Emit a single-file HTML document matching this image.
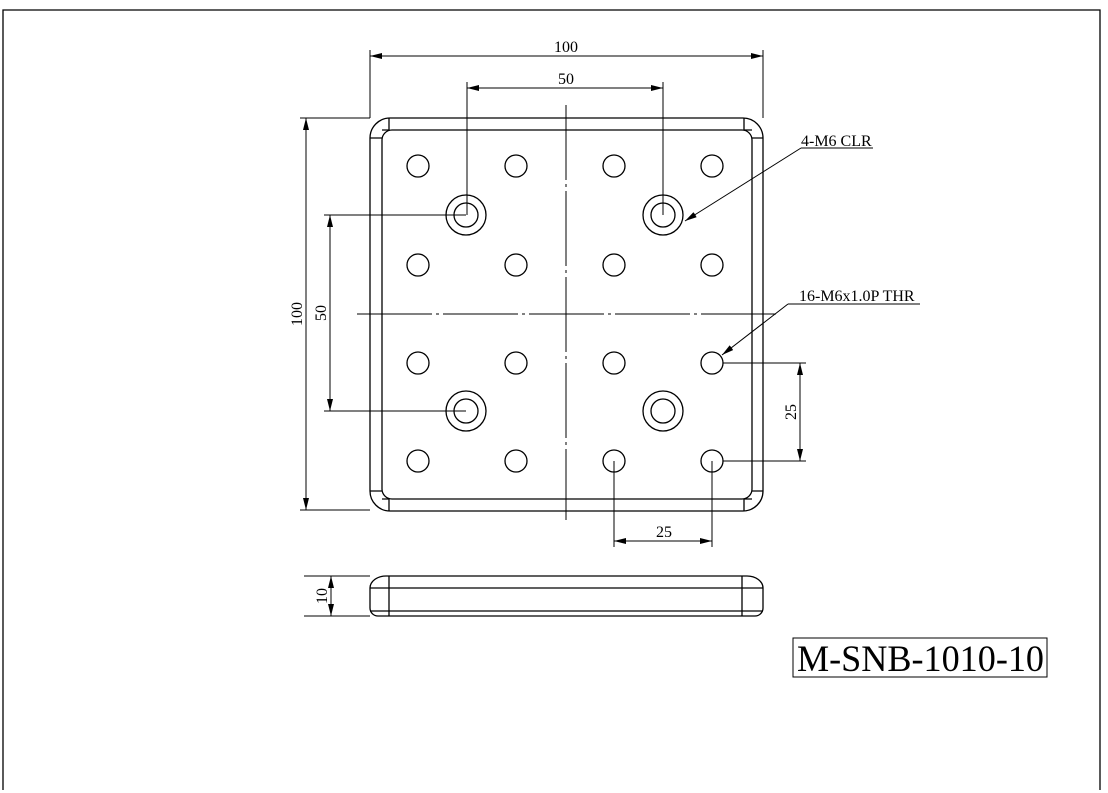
<!DOCTYPE html><html><head><style>body{margin:0;background:#fff}svg{display:block}text{font-family:"Liberation Serif",serif}</style></head><body>
<svg width="1108" height="793" viewBox="0 0 1108 793" xmlns="http://www.w3.org/2000/svg">
<defs><marker id="a" markerWidth="12" markerHeight="6" refX="12" refY="3" orient="auto-start-reverse" markerUnits="userSpaceOnUse"><path d="M0,0 L12,3 L0,6z" fill="#000"/></marker></defs>
<g fill="none" stroke="#000" stroke-width="1.3">
<path d="M3,790 V10 H1100 V790"/>
<path d="M390,118 H743 A20,20 0 0 1 763,138 V491 A20,20 0 0 1 743,511 H390 A20,20 0 0 1 370,491 V138 A20,20 0 0 1 390,118Z"/>
<path d="M392,130 H742 A10,10 0 0 1 752,140 V489 A10,10 0 0 1 742,499 H392 A10,10 0 0 1 382,489 V140 A10,10 0 0 1 392,130Z"/>
<path d="M389,118 V130 H382 M370,138 H382 M744,118 V130 H752 M763,138 H752 M370,491 H382 M389,511 V499 H382 M763,491 H752 M744,511 V499 H752"/>
<g>
<circle cx="418" cy="166" r="11"/><circle cx="516" cy="166" r="11"/><circle cx="614" cy="166" r="11"/><circle cx="712" cy="166" r="11"/>
<circle cx="418" cy="265" r="11"/><circle cx="516" cy="265" r="11"/><circle cx="614" cy="265" r="11"/><circle cx="712" cy="265" r="11"/>
<circle cx="418" cy="363" r="11"/><circle cx="516" cy="363" r="11"/><circle cx="614" cy="363" r="11"/><circle cx="712" cy="363" r="11"/>
<circle cx="418" cy="461" r="11"/><circle cx="516" cy="461" r="11"/><circle cx="614" cy="461" r="11"/><circle cx="712" cy="461" r="11"/>
<circle cx="466" cy="215" r="20"/><circle cx="466" cy="215" r="12"/>
<circle cx="663" cy="215" r="20"/><circle cx="663" cy="215" r="12"/>
<circle cx="466" cy="411" r="20"/><circle cx="466" cy="411" r="12"/>
<circle cx="663" cy="411" r="20"/><circle cx="663" cy="411" r="12"/>
</g>
<path d="M566,105 V520 M357,314 H778" stroke-width="1" stroke-dasharray="75,4,3,4"/>
<path d="M386,576 H747 A16,12 0 0 1 763,588 V608 A8,8 0 0 1 755,616 H378 A8,8 0 0 1 370,608 V588 A16,12 0 0 1 386,576Z"/>
<path d="M370,588 H763 M370,611 H763 M389,576 V616 M742,576 V616"/>
</g>
<g fill="none" stroke="#000" stroke-width="1">
<line x1="370" y1="118" x2="370" y2="50"/>
<line x1="763" y1="118" x2="763" y2="50"/>
<line x1="467" y1="215" x2="467" y2="82"/>
<line x1="663" y1="215" x2="663" y2="82"/>
<line x1="300" y1="118" x2="370" y2="118"/>
<line x1="300" y1="510" x2="370" y2="510"/>
<line x1="324" y1="215" x2="466" y2="215"/>
<line x1="324" y1="411" x2="466" y2="411"/>
<line x1="723" y1="363" x2="806" y2="363"/>
<line x1="723" y1="461" x2="806" y2="461"/>
<line x1="614" y1="461" x2="614" y2="547"/>
<line x1="712" y1="461" x2="712" y2="547"/>
<line x1="304" y1="576" x2="370" y2="576"/>
<line x1="304" y1="616" x2="370" y2="616"/>
<line x1="370" y1="56" x2="763" y2="56" marker-start="url(#a)" marker-end="url(#a)"/>
<line x1="467" y1="88" x2="663" y2="88" marker-start="url(#a)" marker-end="url(#a)"/>
<line x1="306" y1="118" x2="306" y2="510" marker-start="url(#a)" marker-end="url(#a)"/>
<line x1="330" y1="215" x2="330" y2="411" marker-start="url(#a)" marker-end="url(#a)"/>
<line x1="800" y1="363" x2="800" y2="461" marker-start="url(#a)" marker-end="url(#a)"/>
<line x1="614" y1="541" x2="712" y2="541" marker-start="url(#a)" marker-end="url(#a)"/>
<line x1="331" y1="576" x2="331" y2="616" marker-start="url(#a)" marker-end="url(#a)"/>
<line x1="873" y1="148" x2="801" y2="148"/><line x1="801" y1="148" x2="685" y2="221" marker-end="url(#a)"/>
<line x1="920" y1="304" x2="788" y2="304"/><line x1="788" y1="304" x2="722" y2="355" marker-end="url(#a)"/>
<rect x="793" y="638" width="254" height="39"/>
</g>
<g font-size="16" fill="#000">
<text x="566" y="52" text-anchor="middle">100</text>
<text x="566" y="84" text-anchor="middle">50</text>
<text x="664" y="537" text-anchor="middle">25</text>
<text transform="translate(302,314) rotate(-90)" text-anchor="middle">100</text>
<text transform="translate(326,313) rotate(-90)" text-anchor="middle">50</text>
<text transform="translate(796,412) rotate(-90)" text-anchor="middle">25</text>
<text transform="translate(327,596) rotate(-90)" text-anchor="middle">10</text>
<text x="801" y="146">4-M6 CLR</text>
<text x="799" y="301">16-M6x1.0P THR</text>
<text x="797" y="671" font-size="37" textLength="247" lengthAdjust="spacingAndGlyphs">M-SNB-1010-10</text>
</g>
</svg></body></html>
